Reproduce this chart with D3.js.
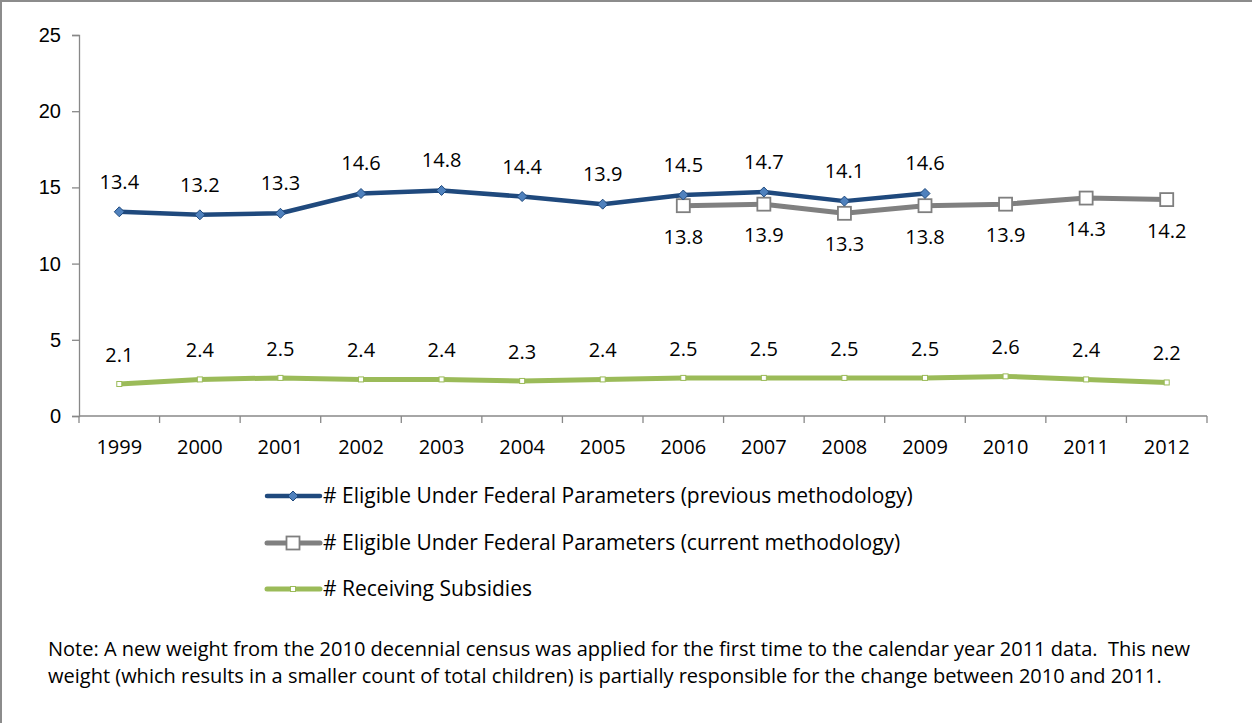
<!DOCTYPE html>
<html>
<head>
<meta charset="utf-8">
<script src="https://cdn.jsdelivr.net/npm/d3@7"></script>
<style>
  html, body { margin: 0; padding: 0; background: #fff; }
  svg { display: block; font-family: "Open Sans", Lato, sans-serif; }
</style>
</head>
<body>
<svg id="chart" width="1252" height="723"></svg>
<script>
// Years on the category axis
const years = ["1999","2000","2001","2002","2003","2004","2005","2006","2007","2008","2009","2010","2011","2012"];

// Millions of children, by series (null = no data for that year)
const prevMethod = [13.4, 13.2, 13.3, 14.6, 14.8, 14.4, 13.9, 14.5, 14.7, 14.1, 14.6, null, null, null];
const currMethod = [null, null, null, null, null, null, null, 13.8, 13.9, 13.3, 13.8, 13.9, 14.3, 14.2];
const subsidies  = [2.1, 2.4, 2.5, 2.4, 2.4, 2.3, 2.4, 2.5, 2.5, 2.5, 2.5, 2.6, 2.4, 2.2];

const yTicks = [0, 5, 10, 15, 20, 25];

const seriesNames = [
  "# Eligible Under Federal Parameters (previous methodology)",
  "# Eligible Under Federal Parameters (current methodology)",
  "# Receiving Subsidies"
];

const noteLines = [
  "Note: A new weight from the 2010 decennial census was applied for the first time to the calendar year 2011 data.  This new",
  "weight (which results in a smaller count of total children) is partially responsible for the change between 2010 and 2011."
];

const FS = 20;

const svg = d3.select("#chart");

// Frame lines on the top and left edges
svg.append("line").attr("x1", 0).attr("x2", 1252).attr("y1", 1).attr("y2", 1)
  .attr("stroke", "#8c8c8c").attr("stroke-width", 2);
svg.append("line").attr("x1", 1).attr("x2", 1).attr("y1", 0).attr("y2", 723)
  .attr("stroke", "#8c8c8c").attr("stroke-width", 2);

const plot = { left: 79, right: 1207, top: 35, bottom: 416 };

const x = d3.scaleBand().domain(years).range([plot.left, plot.right]);
const y = d3.scaleLinear().domain([0, 25]).range([plot.bottom, plot.top]);
const cx = d => x(d) + x.bandwidth() / 2;

// Y axis
const yAxis = svg.append("g")
  .attr("transform", `translate(${plot.left},0)`)
  .call(d3.axisLeft(y).tickValues(yTicks).tickSize(7).tickPadding(11).tickFormat(d3.format("d")));
yAxis.select(".domain").attr("stroke", "#888").attr("stroke-width", 1.3);
yAxis.selectAll(".tick line").attr("stroke", "#888").attr("stroke-width", 1.3);
yAxis.selectAll(".tick text").attr("font-size", FS).attr("fill", "#000").attr("font-family", "inherit");

// X axis with ticks at band boundaries
const xAxis = svg.append("g").attr("transform", `translate(0,${plot.bottom})`);
xAxis.append("line").attr("x1", plot.left).attr("x2", plot.right)
  .attr("stroke", "#888").attr("stroke-width", 1.3);
const bounds = years.map(d => x(d)).concat([x(years[years.length - 1]) + x.bandwidth()]);
xAxis.selectAll(".xt").data(bounds).join("line")
  .attr("x1", d => d).attr("x2", d => d).attr("y1", 0).attr("y2", 7)
  .attr("stroke", "#888").attr("stroke-width", 1.3);
xAxis.selectAll(".xl").data(years).join("text")
  .attr("x", d => cx(d)).attr("y", 38)
  .attr("text-anchor", "middle").attr("font-size", FS).attr("fill", "#000")
  .text(d => d);

const line = d3.line()
  .defined(d => d.v != null)
  .x(d => cx(d.year)).y(d => y(d.v));

const toPts = arr => years.map((yr, i) => ({ year: yr, v: arr[i] }));

const series = [
  { data: toPts(prevMethod), color: "#1f497d", width: 4.5, marker: "diamond", labelDy: -23 },
  { data: toPts(currMethod), color: "#808080", width: 5, marker: "square", labelDy: 38 },
  { data: toPts(subsidies), color: "#9bbb59", width: 5, marker: "dot", labelDy: -22 }
];

function drawMarker(g, type, px, py) {
  if (type === "diamond") {
    g.append("path")
      .attr("d", `M${px},${py - 5}L${px + 5},${py}L${px},${py + 5}L${px - 5},${py}Z`)
      .attr("fill", "#4f81bd").attr("stroke", "#1f497d").attr("stroke-width", 1);
  } else if (type === "square") {
    g.append("rect").attr("x", px - 6.5).attr("y", py - 6.5).attr("width", 13).attr("height", 13)
      .attr("fill", "#fff").attr("stroke", "#7f7f7f").attr("stroke-width", 1.8);
  } else {
    g.append("rect").attr("x", px - 2.5).attr("y", py - 2.5).attr("width", 5).attr("height", 5)
      .attr("fill", "#fff").attr("stroke", "#9bbb59").attr("stroke-width", 1);
  }
}

// Draw in back-to-front order: current, previous, subsidies
[1, 0, 2].forEach(si => {
  const s = series[si];
  const g = svg.append("g");
  g.append("path").datum(s.data).attr("d", line)
    .attr("fill", "none").attr("stroke", s.color).attr("stroke-width", s.width)
    .attr("stroke-linejoin", "round").attr("stroke-linecap", "round");
  s.data.filter(d => d.v != null).forEach(d => drawMarker(g, s.marker, cx(d.year), y(d.v)));
});

// Value labels
series.forEach(s => {
  svg.append("g").selectAll("text").data(s.data.filter(d => d.v != null)).join("text")
    .attr("x", d => cx(d.year)).attr("y", d => y(d.v) + s.labelDy)
    .attr("text-anchor", "middle").attr("font-size", FS).attr("fill", "#000")
    .text(d => d3.format(".1f")(d.v));
});

// Legend
const legendY = [496, 543, 589];
const leg = svg.append("g");
series.forEach((s, i) => {
  const ly = legendY[i];
  leg.append("line").attr("x1", 267).attr("x2", 320).attr("y1", ly).attr("y2", ly)
    .attr("stroke", s.color).attr("stroke-width", s.width).attr("stroke-linecap", "round");
  drawMarker(leg, s.marker, 293, ly);
  leg.append("text").attr("x", 323).attr("y", ly + 7).attr("font-size", 21).attr("fill", "#000")
    .text(seriesNames[i]);
});

// Footnote
svg.append("g").selectAll("text").data(noteLines).join("text")
  .attr("x", 48).attr("y", (d, i) => 656 + i * 27)
  .attr("font-size", 20).attr("fill", "#000")
  .attr("xml:space", "preserve").style("white-space", "pre")
  .text(d => d);
</script>
</body>
</html>
